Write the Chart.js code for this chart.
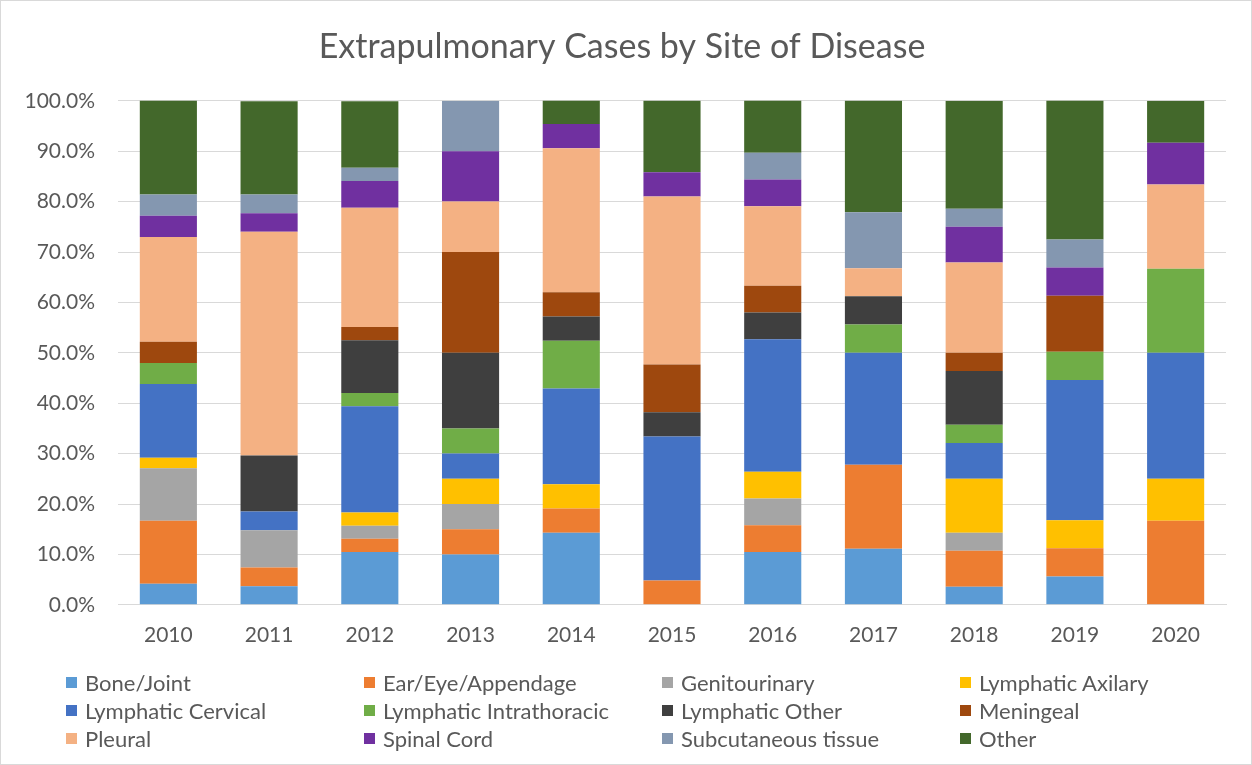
<!DOCTYPE html>
<html>
<head>
<meta charset="utf-8">
<title>Extrapulmonary Cases by Site of Disease</title>
<script src="https://cdn.jsdelivr.net/npm/chart.js@4.4.1/dist/chart.umd.min.js"></script>
<style>
    body { margin: 0; background: #fff; font-family: Lato, "Open Sans", sans-serif; }
    #Frame { position: absolute; left: 0; top: 0; width: 1252px; height: 765px; box-sizing: border-box; border: 1px solid #d9d9d9; }
    #ChartWrapper { position: absolute; left: 0; top: 0; width: 1252px; height: 670px; }
    #Legend { position: absolute; left: 66px; top: 671px; display: grid; grid-template-columns: 298px 298px 298px 260px; row-gap: 6px; }
    .legendItem { display: flex; align-items: center; height: 22px; font-size: 22px; color: #595959; white-space: nowrap; }
    .legendBox { width: 11px; height: 11px; margin-right: 8px; }
</style>
</head>
<body>
<div id="Frame"></div>
<div id="ChartWrapper"><canvas id="Chart"></canvas></div>
<div id="Legend"></div>
<script>
//годы (категории по оси X)
var years = ['2010', '2011', '2012', '2013', '2014', '2015', '2016', '2017', '2018', '2019', '2020'];

//доли случаев по локализации, % (снизу вверх в столбике)
var boneJoint          = [4.2, 3.7, 10.5, 10.0, 14.3, 0, 10.5, 11.1, 3.6, 5.6, 0];
var earEyeAppendage    = [12.5, 3.7, 2.6, 5.0, 4.8, 4.8, 5.3, 16.7, 7.1, 5.6, 16.7];
var genitourinary      = [10.4, 7.4, 2.6, 5.0, 0, 0, 5.3, 0, 3.6, 0, 0];
var lymphaticAxilary   = [2.1, 0, 2.6, 5.0, 4.8, 0, 5.3, 0, 10.7, 5.6, 8.3];
var lymphaticCervical  = [14.6, 3.7, 21.1, 5.0, 19.0, 28.6, 26.3, 22.2, 7.1, 27.8, 25.0];
var lymphaticIntrathoracic = [4.2, 0, 2.6, 5.0, 9.5, 0, 0, 5.6, 3.6, 5.6, 16.7];
var lymphaticOther     = [0, 11.1, 10.5, 15.0, 4.8, 4.8, 5.3, 5.6, 10.7, 0, 0];
var meningeal          = [4.2, 0, 2.6, 20.0, 4.8, 9.5, 5.3, 0, 3.6, 11.1, 0];
var pleural            = [20.8, 44.4, 23.7, 10.0, 28.6, 33.3, 15.8, 5.6, 17.9, 0, 16.7];
var spinalCord         = [4.2, 3.7, 5.3, 10.0, 4.8, 4.8, 5.3, 0, 7.1, 5.6, 8.3];
var subcutaneousTissue = [4.2, 3.7, 2.6, 10.0, 0, 0, 5.3, 11.1, 3.6, 5.6, 0];
var other              = [18.8, 18.5, 13.2, 0, 4.8, 14.3, 10.5, 22.2, 21.4, 27.8, 8.3];

//подписи оси Y
var yTicks = [0, 10, 20, 30, 40, 50, 60, 70, 80, 90, 100];

var seriesNames = ['Bone/Joint', 'Ear/Eye/Appendage', 'Genitourinary', 'Lymphatic Axilary',
    'Lymphatic Cervical', 'Lymphatic Intrathoracic', 'Lymphatic Other', 'Meningeal',
    'Pleural', 'Spinal Cord', 'Subcutaneous tissue', 'Other'];
var seriesData = [boneJoint, earEyeAppendage, genitourinary, lymphaticAxilary,
    lymphaticCervical, lymphaticIntrathoracic, lymphaticOther, meningeal,
    pleural, spinalCord, subcutaneousTissue, other];
var seriesColors = ['#5B9BD5', '#ED7D31', '#A5A5A5', '#FFC000',
    '#4472C4', '#70AD47', '#3F3F3F', '#9E480E',
    '#F4B183', '#7030A0', '#8497B0', '#43682B'];

var myChart;

function buildChart() {
    const datasets = [];
    for (var i = 0; i < seriesNames.length; i++) {
        datasets.push({
            label: seriesNames[i],
            data: seriesData[i],
            backgroundColor: seriesColors[i],
            borderWidth: 0,
            barPercentage: 0.567,
            categoryPercentage: 1
        });
    }
    const config = {
        type: 'bar',
        data: { labels: years, datasets: datasets },
        options: {
            responsive: true,
            maintainAspectRatio: false,
            animation: false,
            layout: { padding: { left: 18, right: 26, top: 0, bottom: 12 } },
            plugins: {
                legend: { display: false },
                tooltip: { enabled: false },
                title: {
                    display: true,
                    text: 'Extrapulmonary Cases by Site of Disease',
                    color: '#595959',
                    font: { family: 'Lato', size: 34, weight: 'normal' },
                    padding: { top: 27, bottom: 33 }
                }
            },
            scales: {
                x: {
                    stacked: true,
                    grid: { display: false },
                    border: { color: '#d9d9d9', width: 1 },
                    ticks: { color: '#595959', font: { family: 'Lato', size: 21 }, padding: 10 }
                },
                y: {
                    stacked: true,
                    min: 0,
                    max: 100,
                    afterBuildTicks: function (scale) {
                        scale.ticks = yTicks.map(function (v) { return { value: v }; });
                    },
                    afterFit: function (scale) { scale.width = 100; },
                    grid: { color: '#d9d9d9', lineWidth: 1, drawTicks: false },
                    border: { display: false },
                    ticks: {
                        color: '#595959',
                        font: { family: 'Lato', size: 21 },
                        padding: 23,
                        callback: function (value) { return value.toFixed(1) + '%'; }
                    }
                }
            }
        }
    };
    myChart = new Chart(document.getElementById('Chart'), config);
}

//легенда в 4 колонки, как в Excel
function buildLegend() {
    var legend = document.getElementById('Legend');
    myChart.data.datasets.forEach(function (ds) {
        var item = document.createElement('div');
        item.className = 'legendItem';
        var box = document.createElement('span');
        box.className = 'legendBox';
        box.style.background = ds.backgroundColor;
        var text = document.createElement('span');
        text.innerText = ds.label;
        item.append(box);
        item.append(text);
        legend.append(item);
    });
}

buildChart();
buildLegend();
</script>
</body>
</html>
